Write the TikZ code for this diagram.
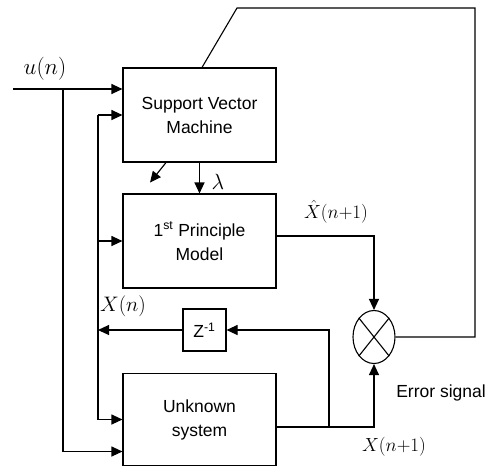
\documentclass[tikz,border=0pt]{standalone}
\usepackage{fix-cm}
\usepackage{amsmath}
\usepackage{fontspec}
\setmainfont{Liberation Sans}
\usetikzlibrary{arrows.meta, positioning, shapes.geometric, calc}

\tikzset{
    block/.style={draw, line width=1.1pt, minimum width=153pt, minimum height=94pt,
                  align=center, inner sep=0pt, font=\fontsize{17.5}{24}\selectfont},
    wire/.style={line width=1.1pt},
    sig/.style={wire, -{Triangle[length=11pt, width=10pt]}},
    lbl/.style={inner sep=0pt, font=\fontsize{19}{24}\selectfont}
}

\begin{document}
\begin{tikzpicture}[x=1pt, y=-1pt]
    \useasboundingbox (0,0) rectangle (492,467);
    % blocks
    \node[block] (svm) at (199.5,115) {Support Vector\\Machine};
    \node[block] (fpm) at (199.5,241) {1\textsuperscript{st} Principle\\Model};
    \node[block, minimum height=92pt] (unk) at (199.5,419.5) {Unknown\\system};
    \node[block, minimum width=43pt, minimum height=42pt] (zinv) at (204.5,330)
      {Z\textsuperscript{-1}};
    \node[draw, ellipse, line width=1.1pt, minimum width=42pt, minimum height=53pt,
          inner sep=0pt] (mult) at (374,337) {};
    \draw[wire] (mult.north east) -- (mult.south west)
                (mult.north west) -- (mult.south east);

    % points on the lines
    \coordinate (uin) at (13,89);
    \coordinate (ub) at (63,89);
    \coordinate (xb) at (98,332);
    \coordinate (tap) at (329,427);
    \coordinate (ret) at (475,8);
    \coordinate (kink) at (237,8);

    % input u(n)
    \draw[sig] (uin) -- (uin -| svm.west);
    \draw[sig] (ub) |- ([yshift=-32pt]unk.west);

    % state bus X(n)
    \draw[wire] (xb |- svm.west) -- (xb |- unk.west);
    \draw[sig] (xb |- svm.west) -- (svm.west);
    \draw[sig] (xb |- fpm.west) -- (fpm.west);
    \draw[sig] (xb |- unk.west) -- (unk.west);
    \draw[sig] (zinv.west) -- (zinv.west -| xb);
    \draw[sig] (tap) |- (zinv.east);

    % outputs to the comparator
    \draw[sig] (unk.east |- tap) -| (mult.south);
    \draw[sig] ([yshift=5pt]fpm.east) -| (mult.north);

    % error back to the SVM
    \draw[wire] (mult.east) -| (ret) -- (kink) -- ([xshift=2.5pt]svm.north);
    \draw[sig] (svm.south) -- (fpm.north);
    \draw[sig] ([xshift=-33.5pt]svm.south) -- ++(-16,20);

    % labels
    \node[lbl, font=\fontsize{23}{26}\selectfont] (ulab) at (45,69) {$u(n)$};
    \node[lbl, font=\fontsize{22}{26}\selectfont] (lam) at (218,182) {$\lambda$};
    \node[lbl, font=\fontsize{21}{26}\selectfont] (xlab) at (123,306) {$X(n)$};
    \node[lbl] (xhat) at (336,212) {$\hat{X}(n{+}1)$};
    \node[lbl] (xnext) at (394,447) {$X(n{+}1)$};
    \node[inner sep=0pt, font=\fontsize{17.5}{20}\selectfont] (err) at (441,393)
      {Error signal};
\end{tikzpicture}
\end{document}
